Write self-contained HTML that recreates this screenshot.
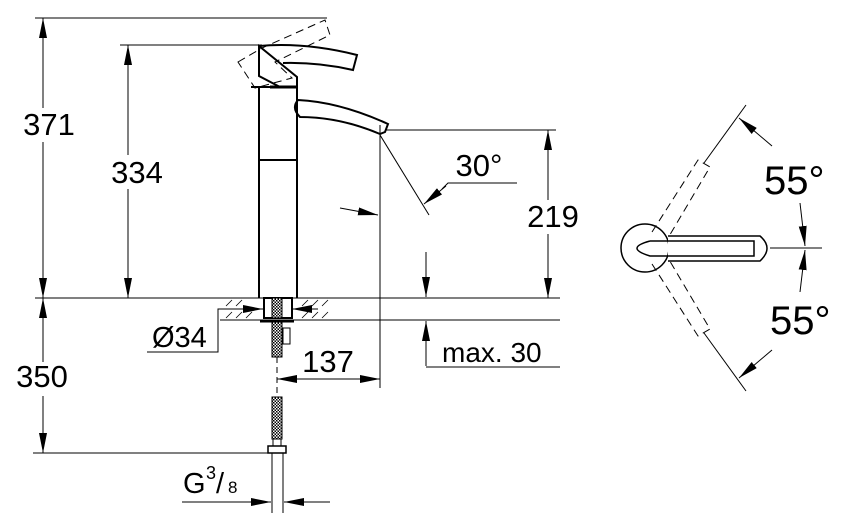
<!DOCTYPE html>
<html><head><meta charset="utf-8"><style>
html,body{margin:0;padding:0;background:#fff;}
svg{display:block;}
text{font-family:"Liberation Sans",sans-serif;fill:#000;}
</style></head><body>
<svg width="859" height="531" viewBox="0 0 859 531" xmlns="http://www.w3.org/2000/svg">
<defs>
<marker id="a" viewBox="0 0 20 8" refX="20" refY="4" markerWidth="20" markerHeight="8" markerUnits="userSpaceOnUse" orient="auto-start-reverse"><path d="M0,0L20,4L0,8z" fill="#000"/></marker>
<pattern id="hp" width="3" height="3" patternUnits="userSpaceOnUse"><rect width="3" height="3" fill="#fff"/><rect width="1.5" height="1.5" fill="#000"/><rect x="1.5" y="1.5" width="1.5" height="1.5" fill="#000"/></pattern>
</defs>
<g stroke="#000" fill="none" stroke-width="1">
<!-- extension lines -->
<line x1="35" y1="18" x2="327" y2="18"/>
<line x1="120" y1="45" x2="262" y2="45"/>
<line x1="35" y1="298" x2="560" y2="298"/>
<line x1="33" y1="453" x2="270" y2="453"/>
<line x1="385" y1="130" x2="556" y2="130"/>
<!-- vertical dims -->
<line x1="43" y1="18" x2="43" y2="298" marker-start="url(#a)" marker-end="url(#a)"/>
<line x1="128" y1="45" x2="128" y2="298" marker-start="url(#a)" marker-end="url(#a)"/>
<line x1="43" y1="298" x2="43" y2="453" marker-start="url(#a)" marker-end="url(#a)"/>
<line x1="548" y1="130" x2="548" y2="298" marker-start="url(#a)" marker-end="url(#a)"/>
<!-- 30 deg -->
<line x1="380" y1="125" x2="380" y2="388"/>
<line x1="380" y1="135" x2="429" y2="215"/>
<line x1="340" y1="208" x2="378" y2="215" marker-end="url(#a)"/>
<polyline points="517,183 448,183 442,189"/>
<line x1="446" y1="186" x2="424" y2="204" marker-end="url(#a)"/>
<!-- max 30 -->
<line x1="426" y1="252" x2="426" y2="297" marker-end="url(#a)"/>
<line x1="426" y1="366" x2="426" y2="321" marker-end="url(#a)"/>
<line x1="300" y1="320" x2="560" y2="320"/>
<line x1="426" y1="367" x2="560" y2="367"/>
<!-- 137 -->
<line x1="277" y1="379" x2="380" y2="379" marker-start="url(#a)" marker-end="url(#a)"/>
<!-- G3/8 -->
<line x1="182" y1="502" x2="271" y2="502" marker-end="url(#a)"/>
<line x1="330" y1="502" x2="284" y2="502" marker-end="url(#a)"/>
<line x1="272" y1="453" x2="272" y2="513"/>
<line x1="283" y1="453" x2="283" y2="513"/>
<!-- Ø34 -->
<polyline points="147,352 218,352 218,309 238,309"/>
<line x1="238" y1="309" x2="263" y2="309" marker-end="url(#a)"/>
<line x1="318" y1="309" x2="292" y2="309" marker-end="url(#a)"/>
<!-- counter -->
<line x1="222" y1="298" x2="332" y2="298"/>
<line x1="220" y1="320" x2="335" y2="320"/>
<g stroke-width="0.8">
<line x1="226" y1="306" x2="232" y2="300"/><line x1="236" y1="306" x2="242" y2="300"/><line x1="226" y1="318" x2="232" y2="312"/><line x1="236" y1="318" x2="242" y2="312"/><line x1="246" y1="318" x2="252" y2="312"/>
<line x1="302" y1="306" x2="308" y2="300"/><line x1="312" y1="306" x2="318" y2="300"/><line x1="322" y1="306" x2="328" y2="300"/><line x1="302" y1="318" x2="308" y2="312"/><line x1="312" y1="318" x2="318" y2="312"/><line x1="322" y1="318" x2="328" y2="312"/>
</g>
<!-- body -->
<g stroke-width="2">
<line x1="259" y1="87" x2="259" y2="298"/>
<line x1="297" y1="87" x2="297" y2="298"/>
<line x1="259" y1="160" x2="297" y2="160"/>
<line x1="251" y1="87" x2="297" y2="87"/>
<line x1="270" y1="87" x2="297" y2="87" stroke-width="3"/>
<path d="M259,46 L297,77 L297,87 L280,87 L259,76 Z"/>
<path d="M259,46 Q305,42 357,55 L353,70 Q318,62 283,63"/>
<path d="M298,100 Q340,102 388,124 L385,132 L380,134 Q340,117 300,117 Q291,108 298,100"/>
<rect x="264" y="298" width="28" height="20" fill="#fff"/>
<line x1="260" y1="321" x2="294" y2="321" stroke-width="3"/>
</g>
<rect x="272" y="298" width="10" height="20" fill="url(#hp)"/>
<rect x="272" y="322" width="10" height="35" fill="url(#hp)"/>
<rect x="283" y="328" width="7" height="16"/>
<rect x="272" y="397" width="10" height="42" fill="url(#hp)"/>
<rect x="273" y="439" width="8" height="7"/>
<rect x="268" y="446" width="18" height="7" stroke-width="1.5"/>
<line x1="277" y1="357" x2="277" y2="397" stroke-dasharray="6,4"/>
<!-- dashed handle -->
<path d="M238,62 L262,48 L325,20 L330,35 L275,62 L292,78 L255,88 Z" stroke-dasharray="8,5"/>
<!-- top view -->
<circle cx="645" cy="248" r="24" stroke-width="1.5" fill="#fff"/>
<path d="M668,236 L760,236 Q774,248 760,261 L668,261" stroke-width="1.5" fill="#fff"/>
<path d="M650,241 L754,241 L754,256 L650,256 Q624,248 650,241" stroke-width="1.5"/>
<line x1="770" y1="248" x2="822" y2="248"/>
<path d="M652,232 L698,160 L710,167 L668,238" stroke-dasharray="8,5"/>
<path d="M652,264 L698,336 L710,329 L668,258" stroke-dasharray="8,5"/>
<line x1="704" y1="163" x2="746" y2="105"/>
<line x1="704" y1="333" x2="746" y2="391"/>
<line x1="772" y1="146" x2="739" y2="118" marker-end="url(#a)"/>
<line x1="772" y1="350" x2="739" y2="378" marker-end="url(#a)"/>
<line x1="800" y1="203" x2="805" y2="246" marker-end="url(#a)"/>
<line x1="800" y1="292" x2="805" y2="250" marker-end="url(#a)"/>
</g>
<g fill="#fff">
<rect x="24" y="108" width="52" height="34"/>
<rect x="108" y="155" width="58" height="34"/>
<rect x="14" y="362" width="58" height="34"/>
<rect x="524" y="200" width="58" height="34"/>
</g>
<g font-size="31" text-anchor="middle">
<text x="49" y="135">371</text>
<text x="137" y="183">334</text>
<text x="42" y="387">350</text>
<text x="553" y="227">219</text>
<text x="328" y="372">137</text>
<text x="479" y="176">30°</text>
</g>
<text x="152" y="347" font-size="29">Ø34</text>
<text x="183" y="493" font-size="29">G</text>
<text x="206" y="479" font-size="18">3</text>
<text x="216" y="493" font-size="29">/</text>
<text x="228" y="493" font-size="17">8</text>
<text x="442" y="362" font-size="28">max. 30</text>
<text x="764" y="194" font-size="40">55°</text>
<text x="770" y="334" font-size="40">55°</text>
</svg>
</body></html>
